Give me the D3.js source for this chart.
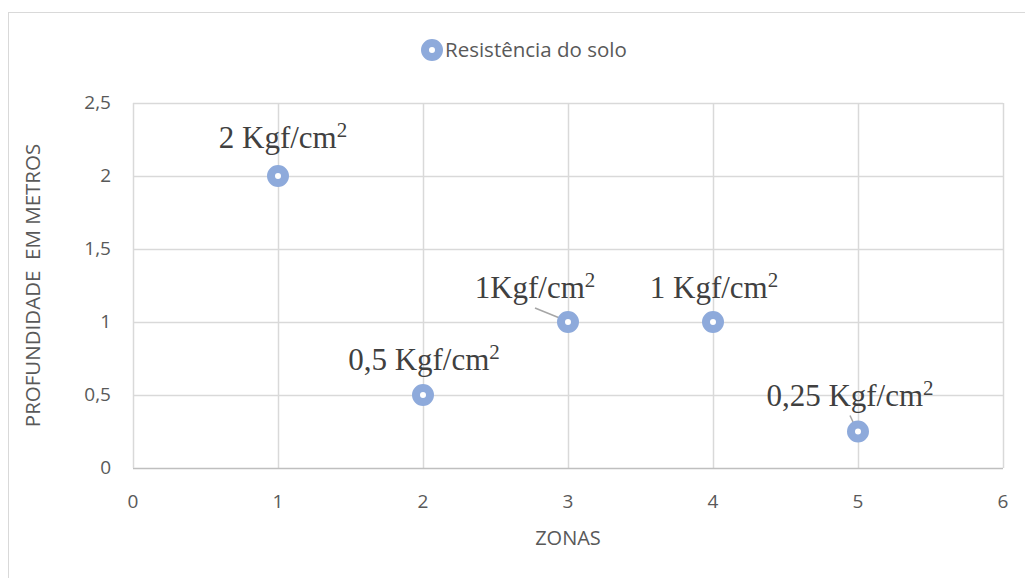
<!DOCTYPE html>
<html>
<head>
<meta charset="utf-8">
<script src="https://cdn.jsdelivr.net/npm/d3@7"></script>
<style>
  body { margin: 0; background: #fff; }
  svg text { font-family: "Open Sans", "Liberation Sans", sans-serif; }
</style>
</head>
<body>
<div id="chart"></div>
<script>
// data
let zonas = [1, 2, 3, 4, 5];
let profundidade = [2, 0.5, 1, 1, 0.25];
let rotulos = ["2 Kgf/cm", "0,5 Kgf/cm", "1Kgf/cm", "1 Kgf/cm", "0,25 Kgf/cm"];
let xTicks = [0, 1, 2, 3, 4, 5, 6];
let yTicks = [0, 0.5, 1, 1.5, 2, 2.5];

// where each label sits relative to its point (px)
let labelOffset = [[5, -28], [1, -25], [-33, -24], [1, -24], [-8, -26]];
let leader = [false, false, true, false, true];

let width = 1025;
let height = 578;
let margin = { left: 133, right: 22, top: 103, bottom: 110 };

let x = d3.scaleLinear().domain([0, 6]).range([margin.left, width - margin.right]);
let y = d3.scaleLinear().domain([0, 2.5]).range([height - margin.bottom, margin.top]);

let svg = d3.select("#chart").append("svg")
  .attr("width", width)
  .attr("height", height);

// outer chart border
svg.append("rect")
  .attr("x", 8.5).attr("y", 12.5)
  .attr("width", 1030).attr("height", 600)
  .attr("fill", "none")
  .attr("stroke", "#d9d9d9");

// gridlines
svg.append("g").selectAll("line")
  .data(xTicks.slice(1))
  .enter().append("line")
  .attr("x1", d => Math.round(x(d)) + 0.5).attr("x2", d => Math.round(x(d)) + 0.5)
  .attr("y1", y(2.5)).attr("y2", y(0))
  .attr("stroke", "#d9d9d9").attr("stroke-width", 1.5);

svg.append("g").selectAll("line")
  .data(yTicks.slice(1))
  .enter().append("line")
  .attr("x1", x(0)).attr("x2", x(6))
  .attr("y1", d => Math.round(y(d)) + 0.5).attr("y2", d => Math.round(y(d)) + 0.5)
  .attr("stroke", "#d9d9d9").attr("stroke-width", 1.5);

// axes lines
svg.append("line")
  .attr("x1", x(0)).attr("x2", x(6))
  .attr("y1", Math.round(y(0)) + 0.5).attr("y2", Math.round(y(0)) + 0.5)
  .attr("stroke", "#bfbfbf").attr("stroke-width", 1.5);
svg.append("line")
  .attr("x1", Math.round(x(0)) + 0.5).attr("x2", Math.round(x(0)) + 0.5)
  .attr("y1", y(2.5)).attr("y2", y(0))
  .attr("stroke", "#d9d9d9").attr("stroke-width", 1.5);

// tick labels
svg.append("g").selectAll("text")
  .data(xTicks)
  .enter().append("text")
  .attr("x", d => x(d))
  .attr("y", y(0) + 40)
  .attr("text-anchor", "middle")
  .attr("font-size", 19)
  .attr("fill", "#595959")
  .text(d => d);

svg.append("g").selectAll("text")
  .data(yTicks)
  .enter().append("text")
  .attr("x", x(0) - 22)
  .attr("y", d => y(d) + 6)
  .attr("text-anchor", "end")
  .attr("font-size", 19)
  .attr("fill", "#595959")
  .text(d => String(d).replace(".", ","));

// axis titles
svg.append("text")
  .attr("x", (x(0) + x(6)) / 2)
  .attr("y", 545)
  .attr("text-anchor", "middle")
  .attr("font-size", 20)
  .attr("fill", "#595959")
  .text("ZONAS");

svg.append("text")
  .attr("transform", "translate(40," + ((y(0) + y(2.5)) / 2) + ") rotate(-90)")
  .attr("text-anchor", "middle")
  .attr("font-size", 20.5)
  .attr("fill", "#595959")
  .style("white-space", "pre")
  .text("PROFUNDIDADE  EM METROS");

// legend
let legend = svg.append("g");
legend.append("circle")
  .attr("cx", 432).attr("cy", 50).attr("r", 7)
  .attr("fill", "#fff").attr("stroke", "#8eaadb").attr("stroke-width", 8);
legend.append("text")
  .attr("x", 445).attr("y", 57)
  .attr("font-size", 20.5)
  .attr("fill", "#595959")
  .text("Resistência do solo");

let pts = zonas.map((z, i) => ({ x: z, y: profundidade[i], label: rotulos[i], off: labelOffset[i], lead: leader[i] }));

// leader lines
svg.append("g").selectAll("line")
  .data(pts.filter(d => d.lead))
  .enter().append("line")
  .attr("x1", d => x(d.x) + d.off[0])
  .attr("y1", d => y(d.y) + d.off[1] + 10)
  .attr("x2", d => x(d.x) - 1)
  .attr("y2", d => y(d.y) - 1)
  .attr("stroke", "#a6a6a6").attr("stroke-width", 1.5);

// points
svg.append("g").selectAll("circle")
  .data(pts)
  .enter().append("circle")
  .attr("cx", d => x(d.x))
  .attr("cy", d => y(d.y))
  .attr("r", 7)
  .attr("fill", "#fff")
  .attr("stroke", "#8eaadb")
  .attr("stroke-width", 8);

// data labels
let lbl = svg.append("g").selectAll("text")
  .data(pts)
  .enter().append("text")
  .attr("x", d => x(d.x) + d.off[0])
  .attr("y", d => y(d.y) + d.off[1])
  .attr("text-anchor", "middle")
  .style("font-family", "'Liberation Serif', 'Times New Roman', serif")
  .attr("font-size", 31)
  .attr("fill", "#404040");
lbl.append("tspan").text(d => d.label);
lbl.append("tspan").attr("dy", -11).attr("font-size", 21).text("2");
</script>
</body>
</html>
